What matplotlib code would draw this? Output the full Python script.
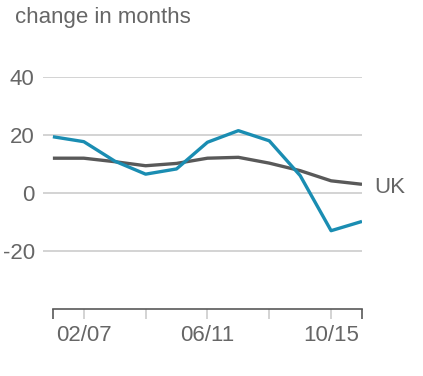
import matplotlib
matplotlib.use("Agg")
import matplotlib.pyplot as plt

plt.rcParams['font.family'] = ['Liberation Sans', 'DejaVu Sans']
plt.rcParams['axes.unicode_minus'] = False

# 数据
periods = list(range(11))
region = [19.4, 17.7, 11.0, 6.5, 8.3, 17.5, 21.5, 18.0, 6.0, -13.0, -9.8]
uk = [12.0, 12.0, 10.8, 9.4, 10.2, 12.0, 12.3, 10.3, 7.7, 4.2, 3.0]
end_ticks = [0, 10]
inner_ticks = [1, 3, 5, 7, 9]
inner_labels = ['02/07', '', '06/11', '', '10/15']
y_ticks = [-20, 0, 20, 40]

text_grey = '#666666'
blue = '#1a8db2'
dark = '#595959'

fig = plt.figure(figsize=(4.23, 3.76), dpi=100)
ax = fig.add_axes([43 / 423, 67 / 376, (362 - 43) / 423, (309 - 77) / 376])

ax.plot(periods, uk, color=dark, lw=2.4, solid_capstyle='butt', zorder=3)
ax.plot(periods, region, color=blue, lw=2.4, solid_capstyle='butt', zorder=4)

ax.set_xlim(-0.32, 10)
ax.set_ylim(-40, 40)

# 网格线
ax.set_yticks(y_ticks)
ax.yaxis.grid(True, color='#cccccc', lw=1.2)
ax.set_axisbelow(True)
ax.tick_params(axis='y', length=0, pad=6, labelsize=16, labelcolor=text_grey)

for s in ['left', 'top', 'right']:
    ax.spines[s].set_visible(False)
ax.spines['bottom'].set_bounds(0, 10)
ax.spines['bottom'].set_color(dark)
ax.spines['bottom'].set_linewidth(1.2)

# 两端深色刻度, 中间浅色刻度带标签
ax.set_xticks(end_ticks)
ax.set_xticklabels(['', ''])
ax.set_xticks(inner_ticks, minor=True)
ax.set_xticklabels(inner_labels, minor=True)
ax.tick_params(axis='x', which='major', length=7.5, width=1.2, color=dark)
ax.tick_params(axis='x', which='minor', length=7.5, width=1.2, color='#cccccc',
               pad=4, labelsize=16, labelcolor=text_grey)

ax.annotate('UK', xy=(10, uk[-1]), xytext=(12, -3), textcoords='offset pixels',
            va='center', ha='left', fontsize=16, color=text_grey)

fig.text(15 / 423, 1 - 18 / 376, 'change in months', fontsize=16, color=text_grey,
         va='center', ha='left')

fig.savefig('out.png', dpi=100)
